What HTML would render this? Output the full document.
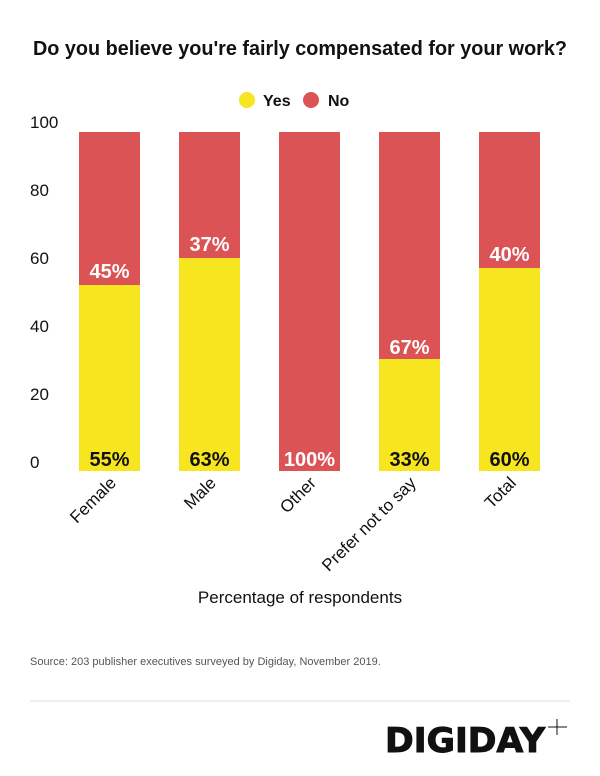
<!DOCTYPE html>
<html><head><style>
body{margin:0;background:#fff;}
svg text{font-family:"Liberation Sans",sans-serif;}
</style></head><body>
<svg width="600" height="771" xmlns="http://www.w3.org/2000/svg">
<text x="33" y="55" font-size="20" font-weight="bold" fill="#111" textLength="534" lengthAdjust="spacingAndGlyphs">Do you believe you're fairly compensated for your work?</text>
<circle cx="247" cy="100" r="8" fill="#f7e51f"/><text x="263" y="106" font-size="16" font-weight="bold" fill="#111">Yes</text>
<circle cx="311" cy="100" r="8" fill="#db5355"/><text x="328" y="106" font-size="16" font-weight="bold" fill="#111">No</text>
<g font-size="17" fill="#111" text-anchor="start">
<text x="30" y="128">100</text><text x="30" y="196">80</text><text x="30" y="264">60</text>
<text x="30" y="332">40</text><text x="30" y="400">20</text><text x="30" y="468">0</text>
</g>
<g>
<rect x="79" y="132" width="61" height="339" fill="#db5355"/><rect x="79" y="285" width="61" height="186" fill="#f7e51f"/>
<rect x="179" y="132" width="61" height="339" fill="#db5355"/><rect x="179" y="258" width="61" height="213" fill="#f7e51f"/>
<rect x="279" y="132" width="61" height="339" fill="#db5355"/>
<rect x="379" y="132" width="61" height="339" fill="#db5355"/><rect x="379" y="359" width="61" height="112" fill="#f7e51f"/>
<rect x="479" y="132" width="61" height="339" fill="#db5355"/><rect x="479" y="268" width="61" height="203" fill="#f7e51f"/>
</g>
<g font-size="20" font-weight="bold" text-anchor="middle">
<text x="109.5" y="278" fill="#fff">45%</text><text x="109.5" y="466" fill="#111">55%</text>
<text x="209.5" y="251" fill="#fff">37%</text><text x="209.5" y="466" fill="#111">63%</text>
<text x="309.5" y="466" fill="#fff">100%</text>
<text x="409.5" y="354" fill="#fff">67%</text><text x="409.5" y="466" fill="#111">33%</text>
<text x="509.5" y="261" fill="#fff">40%</text><text x="509.5" y="466" fill="#111">60%</text>
</g>
<g font-size="17" fill="#111" text-anchor="end">
<text transform="translate(117,484) rotate(-45)">Female</text>
<text transform="translate(217,484) rotate(-45)">Male</text>
<text transform="translate(317,484) rotate(-45)">Other</text>
<text transform="translate(417,484) rotate(-45)">Prefer not to say</text>
<text transform="translate(517,484) rotate(-45)">Total</text>
</g>
<text x="300" y="603" text-anchor="middle" font-size="17" fill="#111">Percentage of respondents</text>
<text x="30" y="665" font-size="11" fill="#555">Source: 203 publisher executives surveyed by Digiday, November 2019.</text>
<line x1="30" y1="701" x2="570" y2="701" stroke="#ddd" stroke-width="1"/>
<text x="385" y="752" font-size="34" font-weight="900" fill="#111" stroke="#111" stroke-width="1" textLength="160" lengthAdjust="spacingAndGlyphs" style="font-family:'DejaVu Sans','Liberation Sans',sans-serif">DIGIDAY</text>
<line x1="557" y1="719" x2="557" y2="735" stroke="#111" stroke-width="1"/>
<line x1="548" y1="727" x2="567" y2="727" stroke="#111" stroke-width="1"/>
</svg>
</body></html>
